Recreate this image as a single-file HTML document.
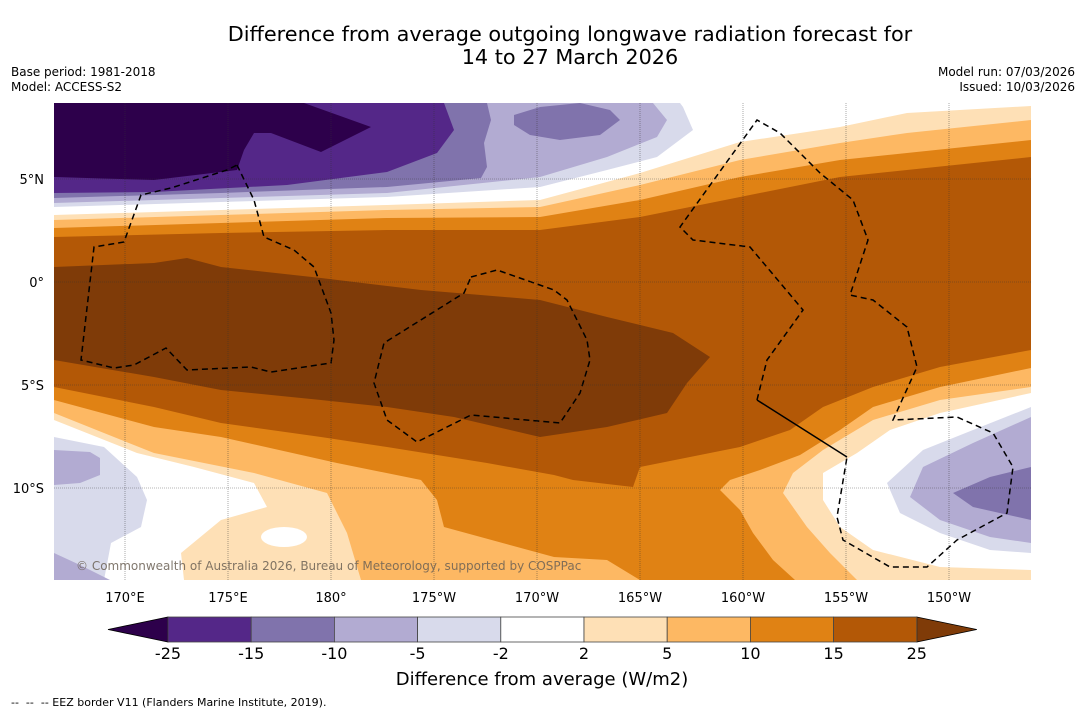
<!DOCTYPE html>
<html><head><meta charset="utf-8"><style>
html,body{margin:0;padding:0;background:#fff;}
svg{display:block;font-family:"DejaVu Sans","Liberation Sans",sans-serif;}
text{white-space:pre;}
</style></head><body>
<svg id="chart" width="1085" height="713" viewBox="0 0 1085 713" xmlns="http://www.w3.org/2000/svg">
<rect width="1085" height="713" fill="#fff"/>
<text x="570" y="41" font-size="20.8" text-anchor="middle">Difference from average outgoing longwave radiation forecast for</text>
<text x="570" y="64" font-size="20.8" text-anchor="middle">14 to 27 March 2026</text>
<text x="11" y="76" font-size="12">Base period: 1981-2018</text>
<text x="11" y="91" font-size="12">Model: ACCESS-S2</text>
<text x="1075" y="76" font-size="12" text-anchor="end">Model run: 07/03/2026</text>
<text x="1075" y="91" font-size="12" text-anchor="end">Issued: 10/03/2026</text>
<defs><clipPath id="mapclip"><rect x="54" y="103" width="977" height="477"/></clipPath></defs>
<g id="map" clip-path="url(#mapclip)"></g>
<g id="axes"></g>
<g id="cbar"></g>
<text x="542" y="685" font-size="18" text-anchor="middle">Difference from average (W/m2)</text>
<text x="11" y="706" font-size="11">--  --  -- EEZ border V11 (Flanders Marine Institute, 2019).</text>
</svg>
<script>
const levels = [-25,-15,-10,-5,-2,2,5,10,15,25];
const bandColors = ["#542788","#8073ac","#b2abd2","#d8daeb","#ffffff","#fee0b6","#fdb863","#e08214","#b35806"];
const underColor = "#2d004b";
const overColor = "#7f3b08";
const lonTicks = ["170°E","175°E","180°","175°W","170°W","165°W","160°W","155°W","150°W"];
const lonValues = [170,175,180,185,190,195,200,205,210];
const latTicks = ["5°N","0°","5°S","10°S"];
const latValues = [5,0,-5,-10];

const NS = "http://www.w3.org/2000/svg";
const xLon = lon => 125 + (lon - 170) * 20.6;
const yLat = lat => 282 - lat * 20.6;
function mk(tag, attrs, parent){const e=document.createElementNS(NS,tag);for(const k in attrs)e.setAttribute(k,attrs[k]);parent.appendChild(e);return e;}
const map = document.getElementById('map');
const pts = a => a.map(p=>p.join(',')).join(' ');

const regions = [
 ["#fee0b6","contour-ge-2",[[54,215],[221,210],[387,205],[540,200],[640,173],[740,142],[840,127],[907,113],[1031,106],[1031,580],[54,580]]],
 ["#fdb863","contour-ge-5",[[54,220],[221,215],[387,210],[540,207],[640,185],[740,160],[840,143],[907,133],[1031,120],[1031,387],[940,400],[873,420],[823,450],[793,473],[783,493],[807,527],[830,553],[857,580],[361,580],[347,533],[327,493],[254,473],[154,453],[54,413]]],
 ["#e08214","contour-ge-10",[[54,228],[221,223],[387,218],[540,217],[640,200],[740,177],[840,160],[1031,140],[1031,368],[940,387],[873,407],[840,430],[800,455],[760,470],[730,480],[720,490],[740,510],[753,533],[773,560],[795,580],[640,580],[607,560],[554,557],[444,527],[437,500],[421,480],[337,463],[221,437],[154,427],[54,400]]],
 ["#b35806","contour-ge-15",[[54,237],[221,233],[387,230],[540,230],[640,217],[740,197],[840,177],[1031,157],[1031,350],[940,367],[873,387],[823,407],[790,430],[740,447],[640,467],[633,487],[573,480],[554,475],[487,463],[387,447],[321,437],[221,423],[154,407],[54,387]]],
 ["#7f3b08","contour-ge-25",[[54,267],[154,263],[187,258],[221,267],[321,278],[421,290],[540,300],[607,317],[673,333],[710,357],[687,383],[667,413],[607,427],[540,437],[454,417],[387,407],[321,400],[221,390],[154,377],[54,360]]],
 ["#ffffff","white-low-left",[[54,420],[137,453],[194,467],[254,483],[267,507],[221,520],[181,553],[184,580],[54,580]]],
 ["#ffffff","white-low-right",[[1031,393],[940,413],[890,430],[857,453],[823,473],[823,500],[840,527],[873,550],[940,567],[1031,570]]],
 ["#d8daeb","contour-le-2-top",[[54,103],[680,103],[683,107],[693,130],[657,157],[607,170],[540,187],[387,197],[221,202],[54,207]]],
 ["#b2abd2","contour-le-5-top",[[54,103],[653,103],[667,120],[657,137],[607,157],[540,177],[387,193],[221,198],[54,203]]],
 ["#8073ac","contour-le-10-top",[[54,103],[487,103],[491,120],[484,143],[487,167],[481,178],[387,187],[221,193],[54,198]]],
 ["#8073ac","contour-le-10-blob",[[514,115],[540,107],[580,103],[610,110],[620,120],[600,135],[560,140],[530,135],[514,125]]],
 ["#542788","contour-le-15-top",[[54,103],[444,103],[454,130],[437,153],[387,172],[287,185],[154,192],[54,193]]],
 ["#2d004b","contour-le-25-top",[[54,103],[304,103],[371,127],[321,152],[271,133],[254,133],[244,150],[237,170],[154,180],[54,177]]],
 ["#d8daeb","contour-le-2-bl",[[54,437],[104,447],[137,477],[147,500],[141,527],[111,543],[104,580],[54,580]]],
 ["#b2abd2","contour-le-5-bl",[[54,450],[90,452],[100,458],[100,475],[80,483],[54,485]]],
 ["#b2abd2","contour-le-5-bl2",[[54,553],[80,565],[110,580],[54,580]]],
 ["#d8daeb","contour-le-2-br",[[1031,407],[973,430],[923,450],[887,483],[900,513],[940,533],[990,550],[1031,553]]],
 ["#b2abd2","contour-le-5-br",[[1031,417],[973,443],[923,467],[910,497],[940,520],[990,537],[1031,543]]],
 ["#8073ac","contour-le-10-br",[[1031,467],[990,477],[953,493],[973,507],[1031,520]]]
];
mk('rect',{x:54,y:103,width:977,height:477,fill:'#ffffff'},map);
regions.forEach(r=>{
 const p=mk('polygon',{points:pts(r[2]),fill:r[0]},map);
 
 
});
const hole=mk('ellipse',{cx:284,cy:537,rx:23,ry:10,fill:'#fff'},map);



const eez = [
 [[237,165],[254,200],[264,237],[294,250],[314,267],[331,313],[334,340],[331,363],[271,372],[251,367],[187,370],[166,348],[134,365],[114,368],[81,360],[94,247],[124,242],[141,195],[171,188],[227,170],[237,165]],
 [[471,277],[497,270],[554,290],[567,300],[587,340],[590,360],[580,393],[560,423],[471,415],[417,442],[387,420],[374,383],[384,343],[464,293],[471,277]],
 [[757,400],[767,360],[803,310],[750,247],[693,240],[680,227],[757,120],[780,133],[820,173],[853,200],[868,240],[850,295],[873,300],[907,327],[917,367],[893,420],[957,417],[993,433],[1013,467],[1007,513],[957,540],[927,567],[890,567],[843,540],[837,517],[847,457]]
];
eez.forEach((l,i)=>{
 const p=mk('polyline',{points:pts(l),fill:'none',stroke:'#000','stroke-width':1.5,'stroke-dasharray':'6,4'},map);
 
 
});
const sl=mk('line',{x1:757,y1:400,x2:847,y2:457,stroke:'#000','stroke-width':1.5},map);



const axes=document.getElementById('axes');
lonValues.forEach((v,i)=>{
 const x=xLon(v);
 const g=mk('line',{x1:x,y1:103,x2:x,y2:580,stroke:'#333','stroke-width':0.6,'stroke-dasharray':'1,1','opacity':0.7},map);
 
 
 const t=mk('text',{x:x,y:602,'font-size':13,'text-anchor':'middle'},axes);
 t.textContent=lonTicks[i];
 
 
});
latValues.forEach((v,i)=>{
 const y=yLat(v);
 const g=mk('line',{x1:54,y1:y,x2:1031,y2:y,stroke:'#333','stroke-width':0.6,'stroke-dasharray':'1,1','opacity':0.7},map);
 
 
 const t=mk('text',{x:44,y:y+5,'font-size':13,'text-anchor':'end'},axes);
 t.textContent=latTicks[i];
 
 
});
const cp=mk('text',{x:76,y:570,'font-size':12,fill:'#6b6055','fill-opacity':0.85},map);
cp.textContent='© Commonwealth of Australia 2026, Bureau of Meteorology, supported by COSPPac';



const cb=document.getElementById('cbar');
const cx0=168, cw=83.2, cy0=617, ch=25;
const cx = i => cx0 + i*cw;
const lt=mk('polygon',{points:`108,${cy0+ch/2} ${cx0},${cy0} ${cx0},${cy0+ch}`,fill:underColor,stroke:'#000','stroke-width':0.8},cb);


const xe=cx(bandColors.length);
const rt=mk('polygon',{points:`${xe},${cy0} ${xe+60},${cy0+ch/2} ${xe},${cy0+ch}`,fill:overColor,stroke:'#000','stroke-width':0.8},cb);


bandColors.forEach((c,i)=>{
 const r=mk('rect',{x:cx(i),y:cy0,width:cw,height:ch,fill:c,stroke:'#444','stroke-width':0.8},cb);
 
 
});
levels.forEach((v,i)=>{
 const t=mk('text',{x:cx(i),y:659,'font-size':16,'text-anchor':'middle'},cb);
 t.textContent=String(v);
 
 
});
</script>
</body></html>
